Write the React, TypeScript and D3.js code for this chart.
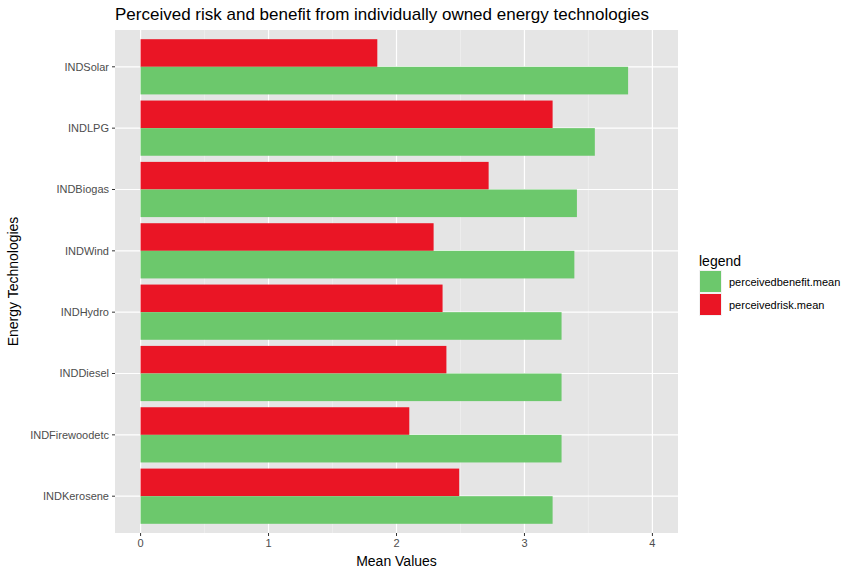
import React from "react";
import * as d3 from "d3";

const categories = ["INDSolar", "INDLPG", "INDBiogas", "INDWind", "INDHydro", "INDDiesel", "INDFirewoodetc", "INDKerosene"];
const riskMean = [1.85, 3.22, 2.72, 2.29, 2.36, 2.39, 2.10, 2.49];
const benefitMean = [3.81, 3.55, 3.41, 3.39, 3.29, 3.29, 3.29, 3.22];
const xTicks = [0, 1, 2, 3, 4];

const W = 864, H = 576;
const panel = { left: 115, right: 678, top: 30, bottom: 533 };
const RED = "#EA1525", GREEN = "#6CC86C";

export default function App() {
  const x = d3.scaleLinear().domain([-0.2, 4.2]).range([panel.left, panel.right]);
  const y = d3.scaleLinear().domain([categories.length - 1 + 0.6, -0.6]).range([panel.bottom, panel.top]);
  // y(i) gives center of category i (0 = top)
  const step = y(1) - y(0);
  const half = step * 0.45;
  const minor = d3.range(-0.5, 4.5, 1).filter(v => v > -0.2 && v < 4.2);
  const font = "Helvetica, Arial, 'Liberation Sans', sans-serif";
  return (
    <svg width={W} height={H} style={{ position: "absolute", left: 0, top: 0 }} fontFamily={font}>
      <rect width={W} height={H} fill="#fff" />
      <rect x={panel.left} y={panel.top} width={panel.right - panel.left} height={panel.bottom - panel.top} fill="#E5E5E5" />
      {minor.map(v => (
        <line key={"m" + v} x1={x(v)} x2={x(v)} y1={panel.top} y2={panel.bottom} stroke="#F2F2F2" strokeWidth={0.6} />
      ))}
      {xTicks.map(v => (
        <line key={"g" + v} x1={x(v)} x2={x(v)} y1={panel.top} y2={panel.bottom} stroke="#fff" strokeWidth={1.2} />
      ))}
      {categories.map((c, i) => (
        <line key={"h" + c} x1={panel.left} x2={panel.right} y1={y(i)} y2={y(i)} stroke="#fff" strokeWidth={1.2} />
      ))}
      {categories.map((c, i) => (
        <g key={c}>
          <rect x={x(0)} y={y(i) - half} width={x(riskMean[i]) - x(0)} height={half} fill={RED} />
          <rect x={x(0)} y={y(i)} width={x(benefitMean[i]) - x(0)} height={half} fill={GREEN} />
        </g>
      ))}
      {categories.map((c, i) => (
        <g key={"t" + c}>
          <line x1={panel.left - 3} x2={panel.left} y1={y(i)} y2={y(i)} stroke="#333" />
          <text x={panel.left - 6} y={y(i)} dy="0.35em" textAnchor="end" fontSize={11} fill="#4D4D4D">{c}</text>
        </g>
      ))}
      {xTicks.map(v => (
        <g key={"xt" + v}>
          <line x1={x(v)} x2={x(v)} y1={panel.bottom} y2={panel.bottom + 3} stroke="#333" />
          <text x={x(v)} y={panel.bottom + 14} textAnchor="middle" fontSize={11} fill="#4D4D4D">{v}</text>
        </g>
      ))}
      <text x={(panel.left + panel.right) / 2} y={566} textAnchor="middle" fontSize={14}>Mean Values</text>
      <text transform={`translate(18,${(panel.top + panel.bottom) / 2}) rotate(-90)`} textAnchor="middle" fontSize={14}>Energy Technologies</text>
      <text x={panel.left} y={20} fontSize={17}>Perceived risk and benefit from individually owned energy technologies</text>
      <text x={699} y={266} fontSize={14}>legend</text>
      <rect x={699} y={270} width={23} height={23} fill="#F2F2F2" />
      <rect x={700} y={271} width={21} height={21} fill={GREEN} />
      <text x={729} y={282} dy="0.35em" fontSize={11}>perceivedbenefit.mean</text>
      <rect x={699} y={293} width={23} height={23} fill="#F2F2F2" />
      <rect x={700} y={294} width={21} height={21} fill={RED} />
      <text x={729} y={305} dy="0.35em" fontSize={11}>perceivedrisk.mean</text>
    </svg>
  );
}
